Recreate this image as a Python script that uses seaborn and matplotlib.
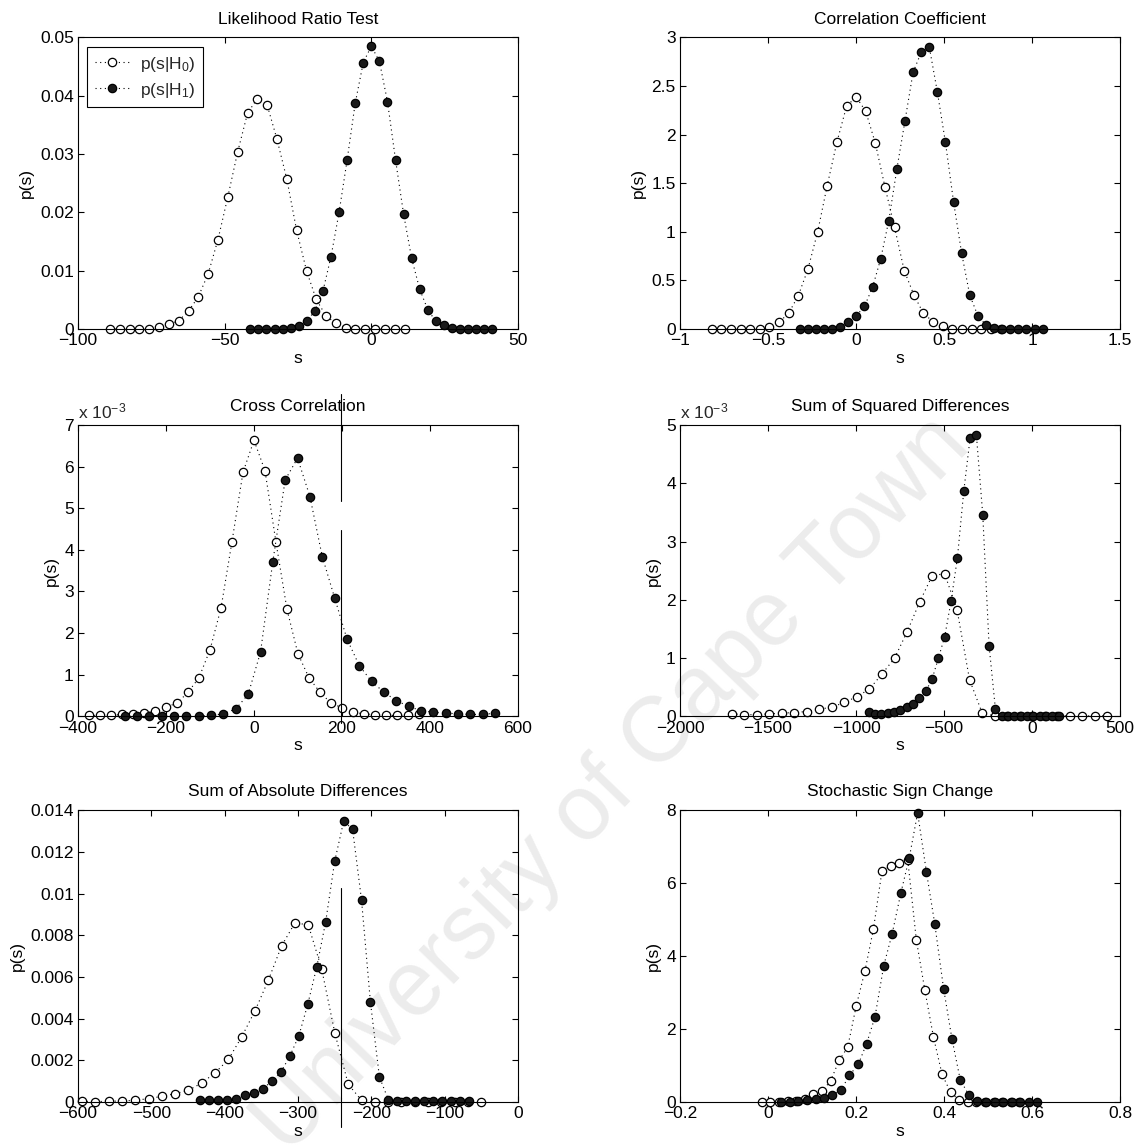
import matplotlib
matplotlib.use("Agg")
import matplotlib.pyplot as plt
import seaborn as sns
from matplotlib.ticker import FixedLocator, FuncFormatter

# ---------------- data ----------------
# Likelihood Ratio Test
lrt_x0 = [-89.1, -85.8, -82.4, -79.1, -75.7, -72.4, -69.0, -65.7, -62.3, -59.0, -55.6,
          -52.3, -48.9, -45.6, -42.2, -38.9, -35.5, -32.2, -28.8, -25.5, -22.1, -18.8,
          -15.4, -12.1, -8.7, -5.4, -2.0, 1.4, 4.7, 8.1, 11.4]
lrt_y0 = [0, 0, 0, 0, 0, 0.0003, 0.0008, 0.0014, 0.0031, 0.0055, 0.0095, 0.0153, 0.0227,
          0.0303, 0.0370, 0.0395, 0.0384, 0.0326, 0.0257, 0.0170, 0.0100, 0.0051, 0.0022,
          0.0010, 0.0002, 0, 0, 0, 0, 0, 0]
lrt_x1 = [-41.25, -38.5, -35.75, -33.0, -30.25, -27.5, -24.75, -22.0, -19.25, -16.5,
          -13.75, -11.0, -8.25, -5.5, -2.75, 0.0, 2.75, 5.5, 8.25, 11.0, 13.75, 16.5,
          19.25, 22.0, 24.75, 27.5, 30.25, 33.0, 35.75, 38.5, 41.25]
lrt_y1 = [0, 0, 0, 0, 0, 0.0001, 0.0005, 0.0014, 0.0031, 0.0065, 0.0124, 0.0200, 0.0290,
          0.0387, 0.0457, 0.0485, 0.0459, 0.0390, 0.0290, 0.0197, 0.0121, 0.0068, 0.0033,
          0.0013, 0.0007, 0.0002, 0, 0, 0, 0, 0]

# Correlation Coefficient
cc_x0 = [-0.820, -0.765, -0.711, -0.656, -0.601, -0.547, -0.492, -0.437, -0.382, -0.328,
         -0.273, -0.218, -0.164, -0.109, -0.054, 0.0, 0.055, 0.110, 0.165, 0.219, 0.274,
         0.329, 0.383, 0.438, 0.493, 0.548, 0.602, 0.657, 0.712, 0.766, 0.821]
cc_y0 = [0, 0, 0, 0, 0, 0, 0.017, 0.069, 0.165, 0.343, 0.617, 1.0, 1.474, 1.92, 2.29, 2.39,
         2.24, 1.91, 1.457, 1.046, 0.60, 0.35, 0.16, 0.075, 0.03, 0, 0, 0, 0, 0, 0]
cc_x1 = [-0.320, -0.274, -0.228, -0.182, -0.136, -0.090, -0.044, 0.002, 0.048, 0.094,
         0.140, 0.186, 0.232, 0.278, 0.324, 0.370, 0.416, 0.462, 0.508, 0.554, 0.600,
         0.646, 0.692, 0.738, 0.784, 0.830, 0.876, 0.922, 0.968, 1.014, 1.060]
cc_y1 = [0, 0, 0, 0, 0, 0.017, 0.069, 0.137, 0.233, 0.43, 0.72, 1.114, 1.646, 2.14, 2.64,
         2.846, 2.904, 2.44, 1.92, 1.31, 0.78, 0.35, 0.137, 0.041, 0.01, 0, 0, 0, 0, 0, 0]

# Cross Correlation (values in units of 1e-3)
xc_x0 = [-375, -350, -325, -300, -275, -250, -225, -200, -175, -150, -125, -100, -75, -50,
         -25, 0, 25, 50, 75, 100, 125, 150, 175, 200, 225, 250, 275, 300, 325, 350, 375]
xc_y0 = [0.024, 0.024, 0.024, 0.048, 0.064, 0.08, 0.128, 0.224, 0.32, 0.58, 0.93, 1.6, 2.6,
         4.2, 5.86, 6.63, 5.9, 4.18, 2.57, 1.5, 0.93, 0.58, 0.32, 0.21, 0.1, 0.064, 0.04,
         0.024, 0.024, 0.024, 0.048]
xc_x1 = [-294.0, -265.9, -237.9, -209.8, -181.7, -153.7, -125.6, -97.5, -69.4, -41.4,
         -13.3, 14.8, 42.8, 70.9, 99.0, 127.1, 155.1, 183.2, 211.3, 239.3, 267.4, 295.5,
         323.5, 351.6, 379.7, 407.8, 435.8, 463.9, 492.0, 520.0, 548.1]
xc_y1 = [0, 0, 0, 0, 0, 0, 0, 0.024, 0.064, 0.18, 0.53, 1.54, 3.72, 5.68, 6.2, 5.28, 3.84,
         2.85, 1.86, 1.22, 0.84, 0.58, 0.38, 0.24, 0.14, 0.10, 0.08, 0.064, 0.048, 0.048,
         0.08]

# Sum of Squared Differences (values in units of 1e-3)
ssd_x0 = [-1706, -1635, -1564, -1493, -1421, -1350, -1279, -1208, -1137, -1066, -995,
          -924, -852, -781, -710, -639, -568, -497, -426, -355, -283, -212, -141, -70, 1,
          72, 143, 214, 285, 357, 428]
ssd_y0 = [0.046, 0.03, 0.03, 0.046, 0.057, 0.068, 0.085, 0.125, 0.16, 0.24, 0.34, 0.47,
          0.73, 1.0, 1.45, 1.96, 2.41, 2.45, 1.83, 0.63, 0.057, 0.01, 0.01, 0.01, 0.01,
          0.01, 0.01, 0.01, 0.01, 0.01, 0.01]
ssd_x1 = [-928, -892, -856, -820, -784, -748, -712, -676, -640, -604, -568, -532, -496,
          -460, -424, -388, -352, -316, -280, -244, -208, -172, -136, -100, -64, -28, 8,
          44, 80, 116, 152]
ssd_y1 = [0.085, 0.046, 0.046, 0.057, 0.08, 0.114, 0.16, 0.216, 0.31, 0.43, 0.64, 1.0,
          1.37, 1.98, 2.72, 3.86, 4.77, 4.82, 3.46, 1.21, 0.125, 0.01, 0.01, 0.01, 0.01,
          0.01, 0.01, 0.01, 0.01, 0.01, 0.01]

# Sum of Absolute Differences
sad_x0 = [-594.5, -576.4, -558.2, -540.1, -521.9, -503.8, -485.6, -467.5, -449.3, -431.2,
          -413.0, -394.9, -376.7, -358.6, -340.4, -322.3, -304.1, -286.0, -267.8, -249.7,
          -231.5, -213.4, -195.2, -177.1, -158.9, -140.8, -122.6, -104.5, -86.3, -68.2,
          -50.0]
sad_y0 = [0.00003, 0.00002, 0.00003, 0.00005, 0.00008, 0.00016, 0.00027, 0.0004, 0.00056,
          0.00091, 0.0014, 0.00204, 0.00313, 0.00438, 0.00585, 0.0075, 0.0086, 0.0085,
          0.0064, 0.0033, 0.00085, 0.00008, 0.00001, 0.00001, 0.00001, 0.00001, 0.00001,
          0.00001, 0.00001, 0.00001, 0.00001]
sad_x1 = [-433.0, -420.8, -408.6, -396.4, -384.2, -372.0, -359.8, -347.6, -335.4, -323.2,
          -311.0, -298.8, -286.6, -274.4, -262.2, -250.0, -237.8, -225.6, -213.4, -201.2,
          -189.0, -176.8, -164.6, -152.4, -140.2, -128.0, -115.8, -103.6, -91.4, -79.2,
          -67.0]
sad_y1 = [0.00011, 0.00008, 0.00008, 0.00011, 0.00016, 0.00032, 0.00043, 0.00064, 0.00101,
          0.00144, 0.00221, 0.00318, 0.0047, 0.00649, 0.00866, 0.01155, 0.01347, 0.0131,
          0.0097, 0.00478, 0.0012, 0.00011, 0.00003, 0.00003, 0.00003, 0.00003, 0.00003,
          0.00003, 0.00003, 0.00003, 0.00003]

# Stochastic Sign Change
ssc_x0 = [-0.014, 0.0055, 0.025, 0.0445, 0.064, 0.0835, 0.103, 0.1225, 0.142, 0.1615,
          0.181, 0.2005, 0.220, 0.2395, 0.259, 0.2785, 0.298, 0.3175, 0.337, 0.3565,
          0.376, 0.3955, 0.415, 0.4345, 0.454, 0.4735, 0.493, 0.5125, 0.532, 0.5515, 0.571]
ssc_y0 = [0, 0, 0, 0.02, 0.03, 0.07, 0.21, 0.30, 0.57, 1.14, 1.5, 2.64, 3.58, 4.74, 6.34,
          6.47, 6.56, 6.65, 4.45, 3.06, 1.78, 0.76, 0.26, 0.05, 0.01, 0, 0, 0, 0, 0, 0]
ssc_x1 = [0.030, 0.049, 0.069, 0.088, 0.108, 0.127, 0.146, 0.166, 0.185, 0.205, 0.224,
          0.243, 0.263, 0.282, 0.302, 0.321, 0.340, 0.360, 0.379, 0.399, 0.418, 0.437,
          0.457, 0.476, 0.496, 0.515, 0.534, 0.554, 0.573, 0.593, 0.612]
ssc_y1 = [0, 0, 0.03, 0.05, 0.07, 0.12, 0.18, 0.33, 0.73, 1.03, 1.6, 2.33, 3.74, 4.61,
          5.74, 6.7, 7.93, 6.31, 4.88, 3.11, 1.73, 0.6, 0.18, 0.03, 0, 0, 0, 0, 0, 0, 0]

titles = ["Likelihood Ratio Test", "Correlation Coefficient", "Cross Correlation",
          "Sum of Squared Differences", "Sum of Absolute Differences",
          "Stochastic Sign Change"]
xticks_list = [[-100, -50, 0, 50], [-1, -0.5, 0, 0.5, 1, 1.5],
               [-400, -200, 0, 200, 400, 600], [-2000, -1500, -1000, -500, 0, 500],
               [-600, -500, -400, -300, -200, -100, 0], [-0.2, 0, 0.2, 0.4, 0.6, 0.8]]
yticks_list = [[0, 0.01, 0.02, 0.03, 0.04, 0.05], [0, 0.5, 1, 1.5, 2, 2.5, 3],
               [0, 1, 2, 3, 4, 5, 6, 7], [0, 1, 2, 3, 4, 5],
               [0, 0.002, 0.004, 0.006, 0.008, 0.01, 0.012, 0.014], [0, 2, 4, 6, 8]]
scaled_panels = [False, False, True, True, False, False]
legend_labels = [r"p(s|H$_0$)", r"p(s|H$_1$)"]

series = [(lrt_x0, lrt_y0, lrt_x1, lrt_y1), (cc_x0, cc_y0, cc_x1, cc_y1),
          (xc_x0, xc_y0, xc_x1, xc_y1), (ssd_x0, ssd_y0, ssd_x1, ssd_y1),
          (sad_x0, sad_y0, sad_x1, sad_y1), (ssc_x0, ssc_y0, ssc_x1, ssc_y1)]

# ---------------- style ----------------
sns.set_style("ticks")
plt.rcParams["font.family"] = ["Liberation Sans", "DejaVu Sans"]
plt.rcParams["mathtext.fontset"] = "custom"
plt.rcParams["mathtext.rm"] = "Liberation Sans"
plt.rcParams["mathtext.it"] = "Liberation Sans:italic"
plt.rcParams["mathtext.default"] = "regular"
FS = 12.5

fig = plt.figure(figsize=(11.4, 11.48), dpi=100)
lefts = [0.0684, 0.5965]
bottoms = [0.7134, 0.3759, 0.0401]
W, H = 0.3860, 0.2540


def fmt(v, pos):
    s = f"{v:g}"
    return s.replace("-", "\u2212")


dot = (0, (1, 3.2))
axes = []
for k in range(6):
    r, c = divmod(k, 2)
    ax = fig.add_axes([lefts[c], bottoms[r], W, H])
    ax.set_facecolor("none")
    x0, y0, x1, y1 = series[k]
    lab0 = legend_labels[0] if k == 0 else None
    lab1 = legend_labels[1] if k == 0 else None
    sns.lineplot(x=x0, y=y0, ax=ax, color="black", linewidth=0.8, linestyle=dot,
                 marker="o", markersize=6, markerfacecolor="white",
                 markeredgecolor="black", markeredgewidth=0.9, estimator=None,
                 sort=False, label=lab0, clip_on=False)
    sns.lineplot(x=x1, y=y1, ax=ax, color="black", linewidth=0.8, linestyle=dot,
                 marker="o", markersize=6, markerfacecolor="#1a1a1a",
                 markeredgecolor="black", markeredgewidth=0.9, estimator=None,
                 sort=False, label=lab1, clip_on=False)
    xt, yt = xticks_list[k], yticks_list[k]
    ax.set_xlim(xt[0], xt[-1])
    ax.set_ylim(yt[0], yt[-1])
    ax.xaxis.set_major_locator(FixedLocator(xt))
    ax.yaxis.set_major_locator(FixedLocator(yt))
    ax.xaxis.set_major_formatter(FuncFormatter(fmt))
    ax.yaxis.set_major_formatter(FuncFormatter(fmt))
    ax.tick_params(direction="in", top=True, right=True, length=4, width=0.8,
                   labelsize=FS, color="black", labelcolor="black", pad=3)
    for sp in ax.spines.values():
        sp.set_visible(True)
        sp.set_color("black")
        sp.set_linewidth(0.8)
    ax.set_title(titles[k], fontsize=FS, pad=10, color="black")
    ax.set_xlabel("s", fontsize=FS, labelpad=2, color="black")
    ax.set_ylabel("p(s)", fontsize=FS, labelpad=4, color="black")
    if scaled_panels[k]:
        ax.text(0.0, 1.012, r"x 10$^{-3}$", transform=ax.transAxes, ha="left",
                va="bottom", fontsize=FS)
    if k == 0:
        leg = ax.legend(loc="upper left", bbox_to_anchor=(0.02, 0.968), fontsize=FS,
                        frameon=True, fancybox=False, framealpha=1, edgecolor="black",
                        handlelength=2.0, handletextpad=0.6, borderpad=0.45,
                        labelspacing=0.4, borderaxespad=0)
        leg.get_frame().set_linewidth(0.8)
    else:
        lg = ax.get_legend()
        if lg is not None:
            lg.remove()
    axes.append(ax)

# vertical scan lines visible in the reference
axes[2].axvline(198, ymin=0.74, ymax=1.106, color="black", lw=0.8, clip_on=False)
axes[2].axvline(198, ymin=-0.022, ymax=0.638, color="black", lw=0.8, clip_on=False)
axes[4].axvline(-242, ymin=-0.085, ymax=0.733, color="black", lw=0.8, clip_on=False)

# watermark
fig.text(0.537, 0.316, "University of Cape Town", fontsize=66, color="#ececec",
         rotation=46, ha="center", va="center", rotation_mode="anchor", zorder=-5)

fig.savefig("out.png", dpi=100)
